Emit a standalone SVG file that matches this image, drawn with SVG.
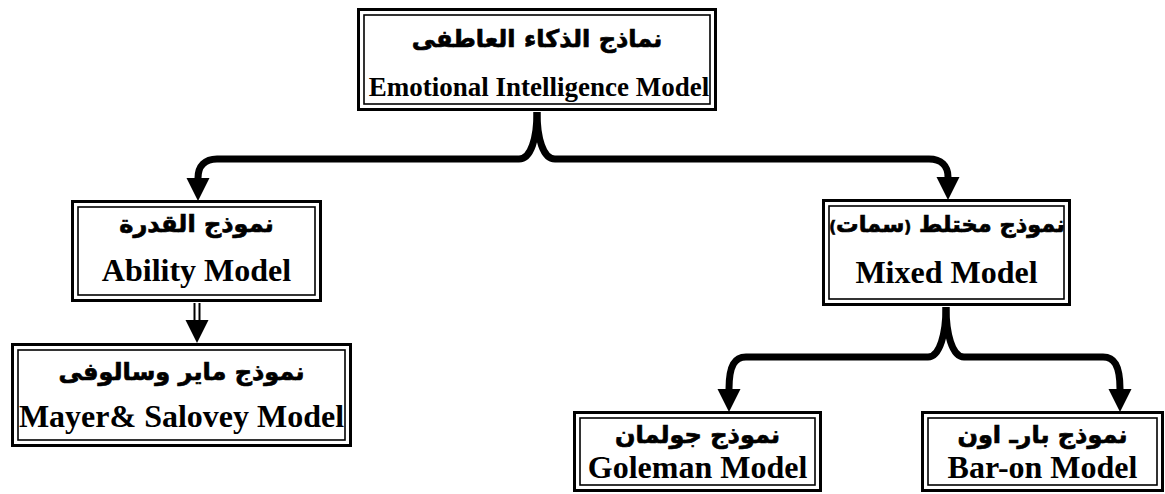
<svg xmlns="http://www.w3.org/2000/svg" width="1165" height="494" viewBox="0 0 1165 494">
<defs>
<style>
.outer{fill:#fff;stroke:#000;stroke-width:3}
.inner{fill:none;stroke:#000;stroke-width:1.6}
.ar{font-family:"DejaVu Sans",sans-serif;font-weight:bold;font-size:24px;fill:#000;stroke:#000;stroke-width:0.7;text-anchor:middle;direction:rtl}
.en{font-family:"Liberation Serif","Times New Roman",serif;font-weight:bold;font-size:32px;fill:#000;text-anchor:middle}
.conn{fill:none;stroke:#000;stroke-width:7;stroke-linejoin:round}
.thin{fill:none;stroke:#000;stroke-width:2}
</style>
<marker id="ah" markerUnits="userSpaceOnUse" markerWidth="24" markerHeight="24" refX="0" refY="11.5" orient="auto" overflow="visible">
<path d="M0,0 L23,11.5 L0,23 z" fill="#000"/>
</marker>
</defs>
<rect width="1165" height="494" fill="#fff"/>
<g id="connectors">
<path class="conn" d="M537,112 C537,138 531,159 519,159 L217,159 C205,159 198,166 198,178" marker-end="url(#ah)"/>
<path class="conn" d="M537,112 C537,138 543,159 555,159 L929,159 C941,159 948,166 948,177" marker-end="url(#ah)"/>
<path class="conn" d="M946,307 C946,333 940,357 928,357 L746,357 C735,357 729,365 729,389" marker-end="url(#ah)"/>
<path class="conn" d="M946,307 C946,333 952,357 964,357 L1103,357 C1114,357 1120,365 1120,389" marker-end="url(#ah)"/>
<line class="thin" x1="194.5" y1="303" x2="194.5" y2="322"/>
<line class="thin" x1="199.5" y1="303" x2="199.5" y2="322"/>
<path d="M197,303 L197,320" fill="none" stroke="none" marker-end="url(#ah)"/>
</g>
<g id="node-ei">
<rect class="outer" x="358.5" y="9.5" width="357" height="100"/>
<rect class="inner" x="364" y="15" width="346" height="89"/>
<text class="ar" x="537" y="47">نماذج الذكاء العاطفى</text>
<text class="en" x="539" y="96" style="font-size:27px">Emotional Intelligence Model</text>
</g>
<g id="node-ability">
<rect class="outer" x="72.5" y="201.5" width="248" height="99"/>
<rect class="inner" x="78" y="207" width="237" height="88"/>
<text class="ar" x="196.5" y="232">نموذج القدرة</text>
<text class="en" x="196.5" y="281">Ability Model</text>
</g>
<g id="node-mayer">
<rect class="outer" x="12.5" y="344.5" width="338" height="101"/>
<rect class="inner" x="18" y="350" width="327" height="90"/>
<text class="ar" x="181.5" y="380">نموذج ماير وسالوفى</text>
<text class="en" x="181.5" y="427">Mayer&amp; Salovey Model</text>
</g>
<g id="node-mixed">
<rect class="outer" x="823.5" y="200.5" width="246" height="104"/>
<rect class="inner" x="829" y="206" width="235" height="93"/>
<text class="ar" x="947" y="232" style="font-size:22.5px">نموذج مختلط <tspan style="font-size:15px">(</tspan>سمات<tspan style="font-size:15px">)</tspan></text>
<text class="en" x="946.5" y="283">Mixed Model</text>
</g>
<g id="node-goleman">
<rect class="outer" x="574.5" y="412.5" width="246" height="78"/>
<rect class="inner" x="580" y="418" width="235" height="67"/>
<text class="ar" x="697.5" y="443">نموذج جولمان</text>
<text class="en" x="697.5" y="478">Goleman Model</text>
</g>
<g id="node-baron">
<rect class="outer" x="922.5" y="412.5" width="240" height="78"/>
<rect class="inner" x="928" y="418" width="229" height="67"/>
<text class="ar" x="1042.5" y="443">نموذج بارـ اون</text>
<text class="en" x="1042.5" y="478">Bar-on Model</text>
</g>
</svg>
